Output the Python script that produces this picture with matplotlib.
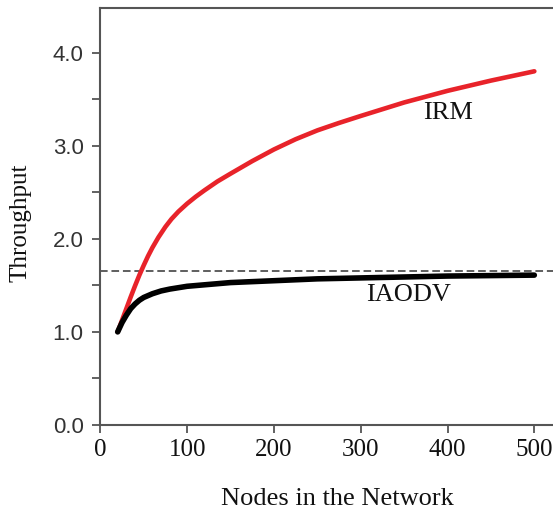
"""Throughput vs network size: IRM against IAODV."""
import matplotlib
matplotlib.use("Agg")
import matplotlib.pyplot as plt
from matplotlib.ticker import MultipleLocator

# values
irm_nodes = [20, 25, 30, 35, 40, 45, 50, 55, 60, 67, 75, 82, 90, 100, 110, 120,
             135, 150, 175, 200, 225, 250, 275, 300, 350, 400, 450, 500]
irm_tput = [1.00, 1.125, 1.25, 1.375, 1.495, 1.61, 1.715, 1.815, 1.905, 2.017,
            2.129, 2.213, 2.293, 2.378, 2.453, 2.521, 2.617, 2.70, 2.835, 2.96,
            3.07, 3.165, 3.245, 3.32, 3.465, 3.59, 3.70, 3.80]
iaodv_nodes = [20, 25, 30, 35, 40, 45, 50, 60, 70, 80, 100, 125, 150, 200, 250,
               300, 350, 400, 450, 500]
iaodv_tput = [1.00, 1.10, 1.18, 1.25, 1.30, 1.34, 1.37, 1.41, 1.44, 1.46, 1.49,
              1.51, 1.53, 1.55, 1.57, 1.58, 1.59, 1.60, 1.605, 1.61]
ref_level = 1.65
x_ticks = [0, 100, 200, 300, 400, 500]
y_ticks = [0.0, 1.0, 2.0, 3.0, 4.0]

SERIF = ["Liberation Serif", "DejaVu Serif"]
SANS = ["Liberation Sans", "DejaVu Sans"]
AXIS_GREY = "#555555"

fig = plt.figure(figsize=(5.53, 5.16), dpi=100)
ax = fig.add_axes([0.1814, 0.1764, 0.8186, 0.8081])

ax.plot(irm_nodes, irm_tput, color="#e8232a", linewidth=3.3,
        solid_capstyle="round", solid_joinstyle="round", zorder=3)
ax.plot(iaodv_nodes, iaodv_tput, color="black", linewidth=4.0,
        solid_capstyle="round", solid_joinstyle="round", zorder=3)
ax.axhline(ref_level, color="#333333", linewidth=1.1, linestyle=(0, (5, 2.5)),
           zorder=2)

ax.text(400, 3.35, "IRM", ha="center", va="center", fontsize=19,
        family=SERIF, color="#111111")
ax.text(355, 1.40, "IAODV", ha="center", va="center", fontsize=19,
        family=SERIF, color="#111111")

ax.set_xlim(0, 521.5)
ax.set_ylim(0, 4.48)
ax.set_xticks(x_ticks)
ax.set_yticks(y_ticks)
ax.set_yticklabels([f"{v:.1f}" for v in y_ticks], family=SANS, fontsize=16,
                   color="#333333")
ax.set_xticklabels([str(v) for v in x_ticks], family=SERIF, fontsize=18,
                   color="#111111")
ax.yaxis.set_minor_locator(MultipleLocator(0.5))

ax.tick_params(axis="both", which="both", direction="out", length=6,
               width=1.3, color=AXIS_GREY)
ax.tick_params(axis="y", which="major", pad=6)
ax.tick_params(axis="x", which="major", pad=4)

for side in ("left", "bottom", "top"):
    ax.spines[side].set_color(AXIS_GREY)
    ax.spines[side].set_linewidth(1.5)
ax.spines["right"].set_visible(False)

ax.set_xlabel("Nodes in the Network", family=SERIF, fontsize=19,
              color="#111111")
ax.xaxis.set_label_coords(0.523, -0.152)
ax.set_ylabel("Throughput", family=SERIF, fontsize=18, color="#111111")
ax.yaxis.set_label_coords(-0.151, 0.484)

fig.savefig("out.png", dpi=100)
plt.close(fig)
